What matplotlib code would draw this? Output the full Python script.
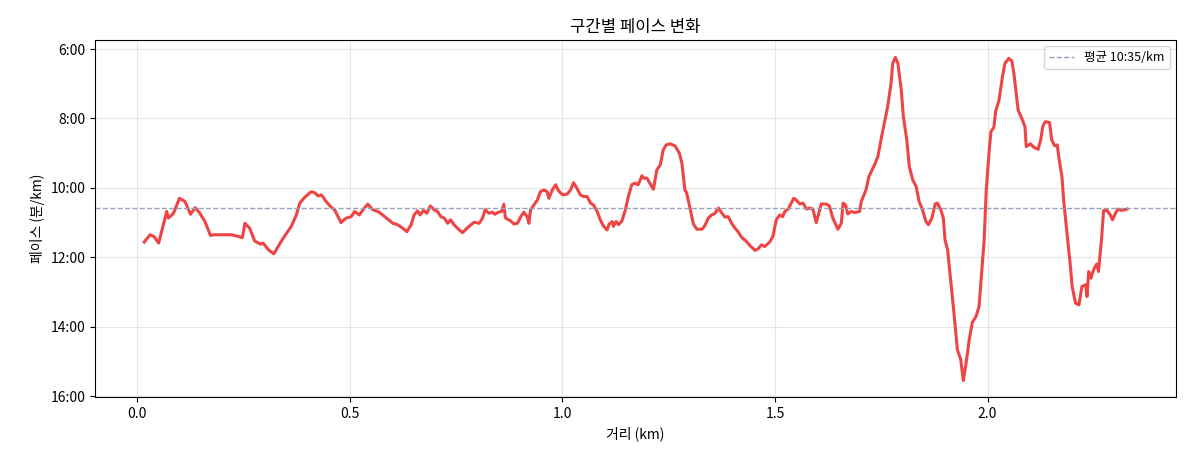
import matplotlib
matplotlib.use("Agg")
import matplotlib.pyplot as plt
from matplotlib.ticker import MultipleLocator, FuncFormatter

plt.rcParams['font.family'] = ['Noto Sans CJK KR', 'DejaVu Sans']
plt.rcParams['axes.unicode_minus'] = False

# distance (km) and pace (minutes per km, decimal)
dist_km = [
    0.016, 0.030, 0.039, 0.050, 0.057, 0.069, 0.073, 0.085, 0.099, 0.112,
    0.125, 0.136, 0.147, 0.159, 0.172, 0.179, 0.222, 0.247, 0.253, 0.264,
    0.276, 0.290, 0.296, 0.308, 0.321, 0.331, 0.343, 0.362, 0.374, 0.382,
    0.393, 0.409, 0.417, 0.425, 0.433, 0.444, 0.456, 0.464, 0.472, 0.479,
    0.491, 0.503, 0.511, 0.522, 0.534, 0.542, 0.554, 0.566, 0.577, 0.589,
    0.601, 0.612, 0.624, 0.634, 0.644, 0.651, 0.659, 0.665, 0.673, 0.681,
    0.689, 0.698, 0.706, 0.714, 0.722, 0.730, 0.737, 0.745, 0.757, 0.765,
    0.773, 0.780, 0.792, 0.804, 0.812, 0.818, 0.827, 0.835, 0.841, 0.849,
    0.857, 0.862, 0.866, 0.878, 0.886, 0.894, 0.902, 0.909, 0.917, 0.921,
    0.925, 0.933, 0.941, 0.948, 0.956, 0.964, 0.968, 0.976, 0.984, 0.991,
    1.001, 1.011, 1.019, 1.026, 1.034, 1.042, 1.050, 1.058, 1.066, 1.073,
    1.081, 1.089, 1.097, 1.105, 1.110, 1.117, 1.120, 1.126, 1.132, 1.140,
    1.148, 1.155, 1.163, 1.171, 1.178, 1.183, 1.187, 1.191, 1.199, 1.210,
    1.214, 1.222, 1.230, 1.237, 1.244, 1.253, 1.265, 1.275, 1.281, 1.288,
    1.292, 1.300, 1.308, 1.316, 1.328, 1.335, 1.343, 1.351, 1.359, 1.367,
    1.374, 1.382, 1.390, 1.398, 1.406, 1.413, 1.421, 1.431, 1.441, 1.453,
    1.460, 1.468, 1.476, 1.488, 1.495, 1.503, 1.511, 1.518, 1.523, 1.531,
    1.539, 1.544, 1.550, 1.558, 1.566, 1.574, 1.581, 1.589, 1.597, 1.609,
    1.621, 1.628, 1.636, 1.648, 1.656, 1.660, 1.666, 1.671, 1.679, 1.687,
    1.699, 1.703, 1.714, 1.721, 1.734, 1.742, 1.750, 1.757, 1.765, 1.773,
    1.777, 1.783, 1.789, 1.797, 1.802, 1.810, 1.816, 1.824, 1.832, 1.839,
    1.847, 1.855, 1.861, 1.869, 1.877, 1.882, 1.890, 1.896, 1.900, 1.906,
    1.914, 1.921, 1.929, 1.937, 1.943, 1.949, 1.957, 1.964, 1.973, 1.980,
    1.986, 1.992, 1.997, 2.004, 2.008, 2.015, 2.019, 2.027, 2.035, 2.041,
    2.050, 2.057, 2.062, 2.072, 2.082, 2.088, 2.091, 2.101, 2.109, 2.119,
    2.125, 2.130, 2.136, 2.146, 2.151, 2.158, 2.164, 2.168, 2.175, 2.179,
    2.187, 2.195, 2.199, 2.207, 2.215, 2.222, 2.231, 2.234, 2.238, 2.243,
    2.250, 2.257, 2.261, 2.268, 2.273, 2.281, 2.289, 2.294, 2.301, 2.307,
    2.315, 2.328,
]
pace_min = [
    11.56, 11.35, 11.40, 11.59, 11.26, 10.68, 10.87, 10.73, 10.30, 10.39,
    10.76, 10.57, 10.73, 10.97, 11.37, 11.35, 11.35, 11.43, 11.02, 11.16,
    11.53, 11.62, 11.59, 11.78, 11.90, 11.69, 11.45, 11.11, 10.78, 10.44,
    10.28, 10.11, 10.14, 10.23, 10.20, 10.39, 10.56, 10.63, 10.83, 11.00,
    10.87, 10.83, 10.68, 10.78, 10.58, 10.47, 10.63, 10.68, 10.78, 10.90,
    11.02, 11.06, 11.16, 11.26, 11.06, 10.78, 10.66, 10.78, 10.65, 10.73,
    10.52, 10.63, 10.68, 10.83, 10.87, 11.02, 10.92, 11.06, 11.21, 11.29,
    11.19, 11.11, 10.99, 11.02, 10.87, 10.63, 10.73, 10.70, 10.76, 10.70,
    10.68, 10.47, 10.87, 10.95, 11.04, 11.02, 10.83, 10.70, 10.83, 11.02,
    10.63, 10.49, 10.35, 10.11, 10.06, 10.11, 10.30, 10.06, 9.91, 10.09,
    10.20, 10.18, 10.06, 9.85, 10.01, 10.20, 10.25, 10.25, 10.44, 10.49,
    10.66, 10.92, 11.11, 11.21, 11.04, 10.97, 11.11, 10.97, 11.06, 10.95,
    10.63, 10.25, 9.91, 9.86, 9.91, 9.77, 9.65, 9.72, 9.72, 9.96,
    10.04, 9.48, 9.34, 8.91, 8.76, 8.73, 8.79, 9.00, 9.29, 10.06,
    10.14, 10.58, 11.04, 11.19, 11.19, 11.09, 10.87, 10.78, 10.73, 10.58,
    10.71, 10.84, 10.83, 11.02, 11.16, 11.26, 11.42, 11.52, 11.66, 11.80,
    11.76, 11.64, 11.69, 11.55, 11.40, 10.92, 10.78, 10.83, 10.68, 10.61,
    10.42, 10.30, 10.35, 10.46, 10.44, 10.61, 10.58, 10.61, 11.00, 10.46,
    10.47, 10.52, 10.87, 11.19, 11.02, 10.44, 10.49, 10.75, 10.68, 10.71,
    10.68, 10.39, 10.06, 9.67, 9.34, 9.10, 8.57, 8.14, 7.66, 6.99,
    6.41, 6.24, 6.41, 7.18, 7.95, 8.62, 9.39, 9.77, 9.96, 10.39,
    10.63, 10.97, 11.06, 10.87, 10.46, 10.44, 10.63, 10.87, 11.50, 11.78,
    12.74, 13.61, 14.66, 14.95, 15.55, 15.09, 14.37, 13.88, 13.70, 13.42,
    12.45, 11.50, 10.06, 8.91, 8.38, 8.25, 7.80, 7.47, 6.80, 6.41,
    6.27, 6.34, 6.70, 7.76, 8.04, 8.24, 8.81, 8.73, 8.83, 8.89,
    8.62, 8.22, 8.09, 8.12, 8.62, 8.79, 8.76, 9.15, 9.67, 10.35,
    11.30, 12.27, 12.84, 13.32, 13.37, 12.84, 12.79, 13.13, 12.41, 12.60,
    12.34, 12.19, 12.41, 11.50, 10.65, 10.65, 10.78, 10.92, 10.73, 10.61,
    10.65, 10.61,
]
avg_pace = 10 + 35 / 60
avg_label = '평균 10:35/km'


def fmt_pace(v, pos):
    m = int(v)
    s = int(round((v - m) * 60))
    if s == 60:
        m, s = m + 1, 0
    return f'{m}:{s:02d}'


fig, ax = plt.subplots(figsize=(11.88, 4.68), dpi=100)
fig.subplots_adjust(left=0.080, right=0.990, top=0.9145, bottom=0.152)

ax.plot(dist_km, pace_min, color='#ef4444', linewidth=2.2)
ax.axhline(avg_pace, color='#94a3b8', linestyle='--', linewidth=1.0, label=avg_label)

ax.set_ylim(16.02, 5.74)
ax.yaxis.set_major_locator(MultipleLocator(2))
ax.yaxis.set_major_formatter(FuncFormatter(fmt_pace))

ax.set_title('구간별 페이스 변화', fontsize=12)
ax.set_xlabel('거리 (km)', fontsize=10)
ax.set_ylabel('페이스 (분/km)', fontsize=10)
ax.grid(True, alpha=0.3)
ax.legend(loc='upper right', fontsize=9)

fig.savefig('out.png', dpi=100)
